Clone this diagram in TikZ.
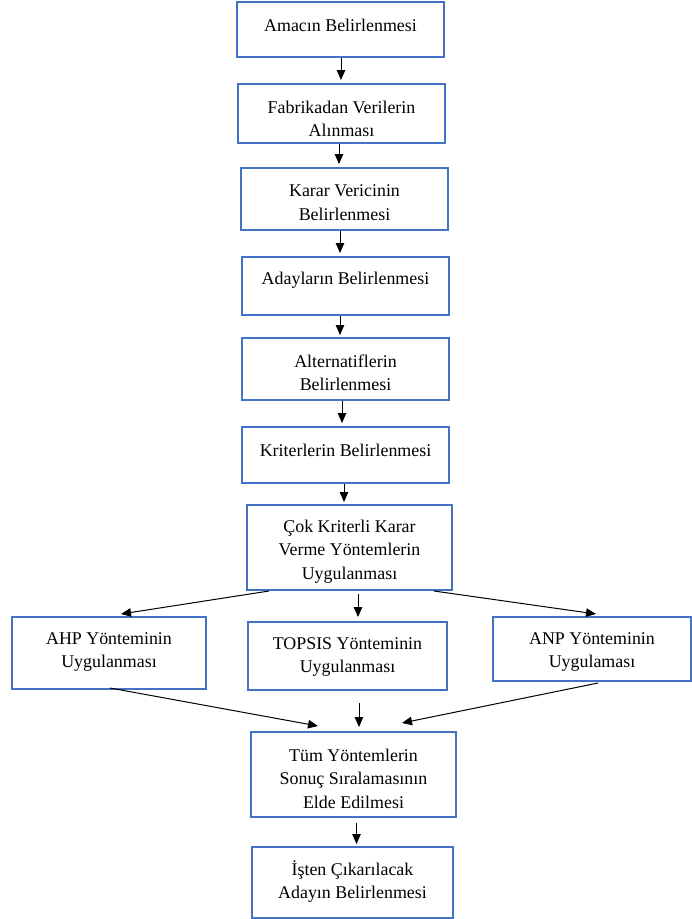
\documentclass[tikz,border=0pt]{standalone}
\usepackage{fontspec}
\setmainfont{Liberation Serif}
\usetikzlibrary{arrows.meta,calc}
\definecolor{boxblue}{HTML}{4472C4}
\newcommand\flowbox[7]{%
  \node[box, minimum width={#3-#2}, minimum height={#5-#4}] (#1) at ({(#2+#3)/2},{(#4+#5)/2}) {};
  \node[txt] (#1t) at ({(#2+#3)/2},{#4+23+(#6-1)*11.75}) {#7};
}
\begin{document}
\begin{tikzpicture}[x=1pt,y=-1pt,
  box/.style={draw=boxblue, line width=2pt, inner sep=0pt, fill=white},
  txt/.style={align=center, inner sep=0pt, font=\fontsize{17.9}{23.5}\selectfont},
  arr/.style={-{Triangle[length=10pt,width=8.5pt]}, line width=1pt, black}]
\useasboundingbox (0,0) rectangle (692,919);

\flowbox{b1}{237}{444}{2}{57}{1}{Amacın Belirlenmesi}
\flowbox{b2}{238}{445}{84}{143}{2}{Fabrikadan Verilerin\\Alınması}
\flowbox{b3}{241}{448}{168}{230}{2}{Karar Vericinin\\Belirlenmesi}
\flowbox{b4}{242}{449}{257}{315}{1}{Adayların Belirlenmesi}
\flowbox{b5}{242}{449}{338}{400}{2}{Alternatiflerin\\Belirlenmesi}
\flowbox{b6}{242}{449}{427}{483}{1}{Kriterlerin Belirlenmesi}
\flowbox{b7}{247}{452}{505}{590}{3}{Çok Kriterli Karar\\Verme Yöntemlerin\\Uygulanması}
\flowbox{ahp}{12}{206}{617}{689}{2}{AHP Yönteminin\\Uygulanması}
\flowbox{top}{248}{447}{622}{690}{2}{TOPSIS Yönteminin\\Uygulanması}
\flowbox{anp}{493}{691}{617}{681}{2}{ANP Yönteminin\\Uygulaması}
\flowbox{b11}{251}{456}{732}{817}{3}{Tüm Yöntemlerin\\Sonuç Sıralamasının\\Elde Edilmesi}
\flowbox{b12}{252}{453}{847}{918}{2}{İşten Çıkarılacak\\Adayın Belirlenmesi}

% vertical chain
\draw[arr] ($(b1.south)+(0.5,0)$) -- ($(b1.south |- b2.north)+(0.5,-3)$);
\draw[arr] ($(b2.south)+(-2.5,0)$) -- ($(b2.south |- b3.north)+(-2.5,-3)$);
\draw[arr] ($(b3.south)+(-4.5,0)$) -- ($(b3.south |- b4.north)+(-4.5,-3)$);
\draw[arr] ($(b4.south)+(-5.5,0)$) -- ($(b4.south |- b5.north)+(-5.5,-2)$);
\draw[arr] ($(b5.south)+(-3.5,0)$) -- ($(b5.south |- b6.north)+(-3.5,-3)$);
\draw[arr] ($(b6.south)+(-1.5,0)$) -- ($(b6.south |- b7.north)+(-1.5,-2)$);

% split
\draw[arr] ($(b7.south)+(-80.5,0)$) -- ($(ahp.north)+(12,-2)$);
\draw[arr] ($(b7.south)+(8.5,3)$) -- ($(top.north)+(10.5,-4)$);
\draw[arr] ($(b7.south)+(84.5,0)$) -- ($(anp.north)+(4,-2)$);

% merge
\draw[arr] ($(ahp.south)+(1,-2)$) -- ($(b11.north)+(-35.5,-5)$);
\draw[arr] ($(top.south)+(11.5,12)$) -- ($(b11.north)+(5.5,-4)$);
\draw[arr] ($(anp.south)+(6,1)$) -- ($(b11.north)+(48.5,-8)$);

\draw[arr] ($(b11.south)+(3,5)$) -- ($(b11.south |- b12.north)+(3,-2)$);
\end{tikzpicture}
\end{document}
